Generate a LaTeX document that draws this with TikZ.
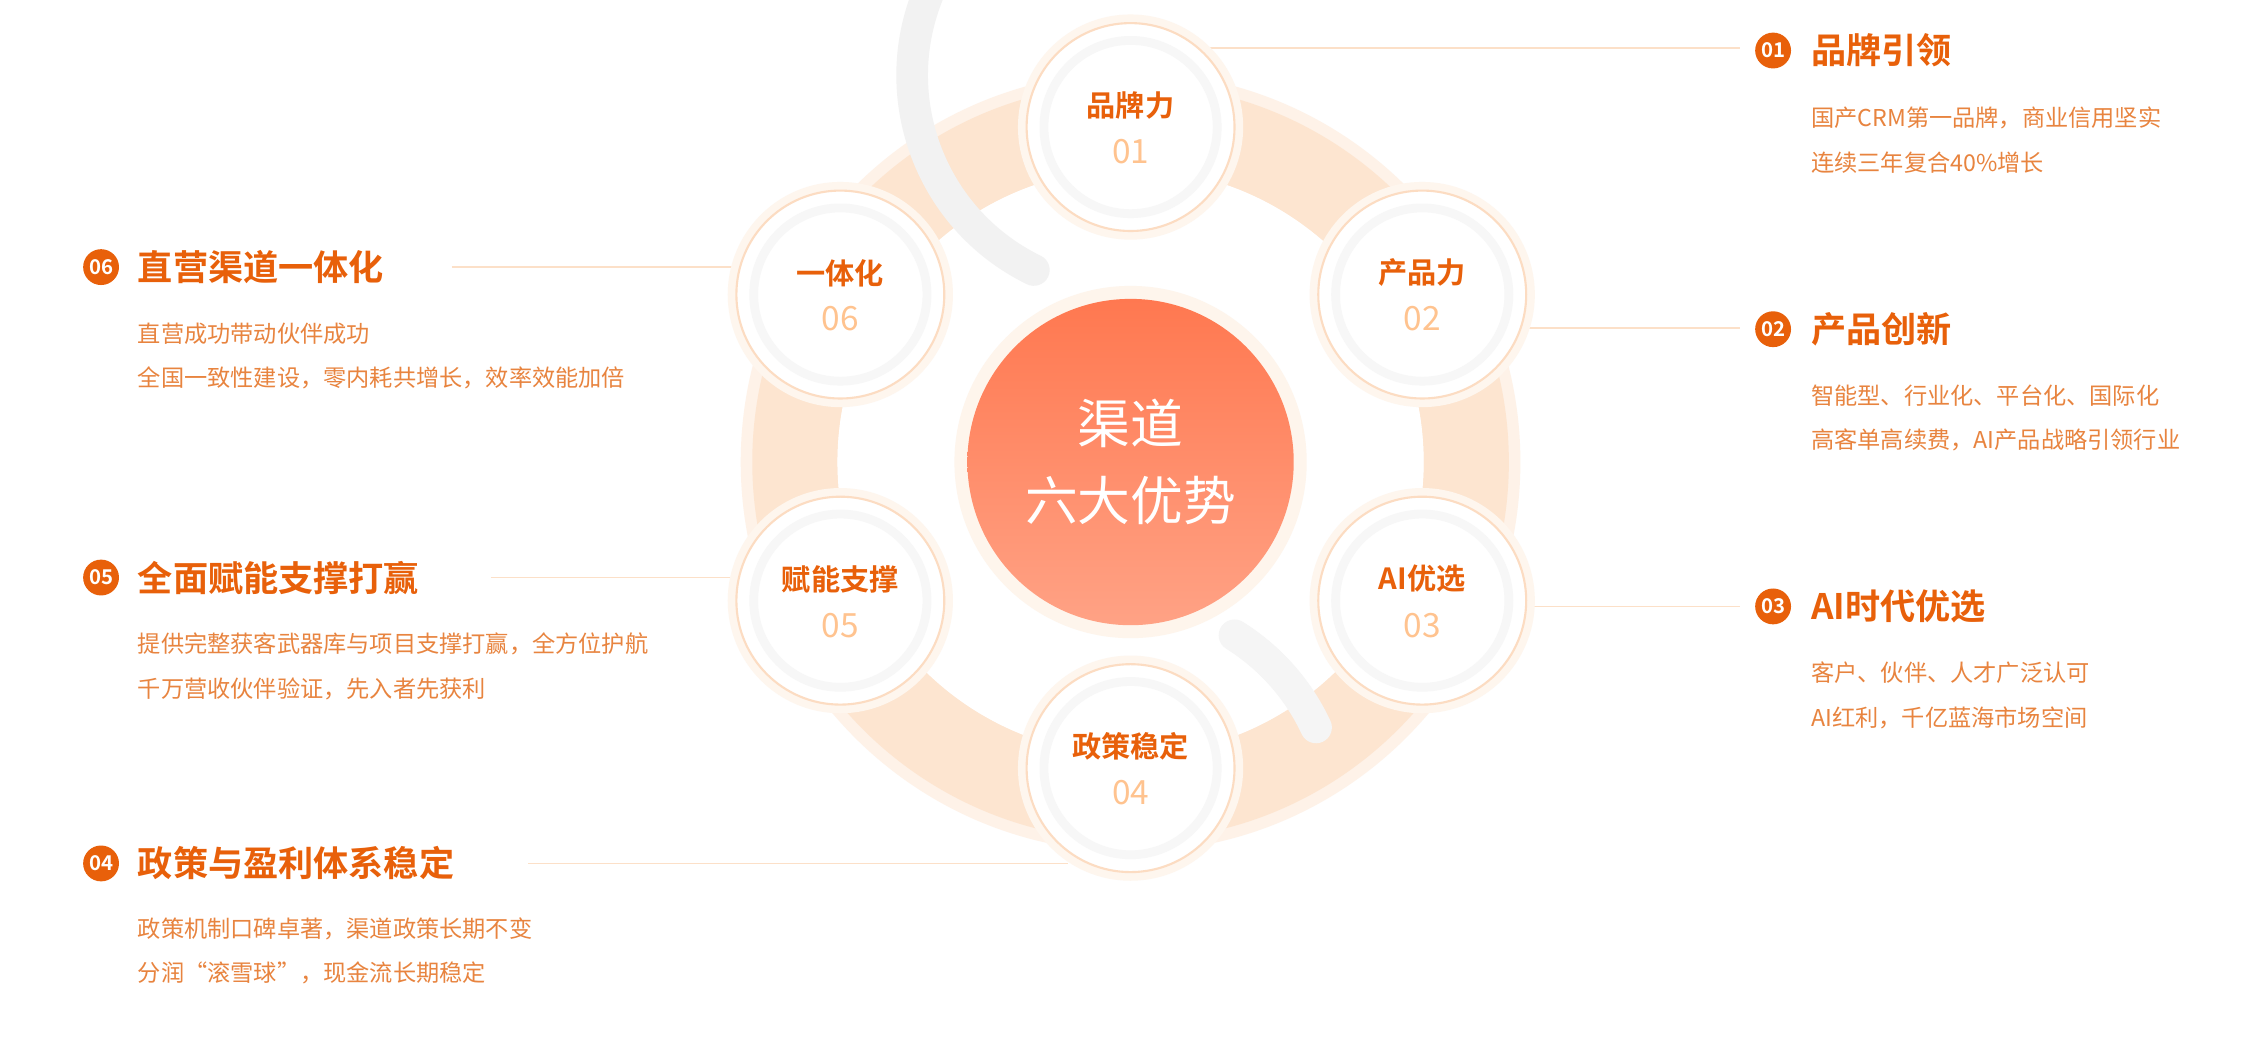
\documentclass[tikz,border=0pt]{standalone}
\usepackage{fontspec}
\setmainfont{Noto Sans CJK SC}
\newfontfamily\cjkb{Noto Sans CJK SC Bold}
\definecolor{org}{HTML}{E8600A}
\definecolor{desc}{HTML}{E8843F}
\definecolor{ringc}{HTML}{FDE5D0}
\definecolor{numc}{HTML}{FFC38F}
\definecolor{lnc}{HTML}{FCE0C8}
\definecolor{cbord}{HTML}{FCDCC2}
\definecolor{ctop}{HTML}{FF7850}
\definecolor{cbot}{HTML}{FFA285}
\begin{document}
\begin{tikzpicture}[x=0.01444cm,y=-0.01444cm,
  ttl/.style={anchor=west,text=org,font=\cjkb\fontsize{10}{12}\selectfont,inner sep=0},
  dsc/.style={anchor=west,text=desc,font=\fontsize{6.6}{8}\selectfont,inner sep=0},
  badge/.style={circle,fill=org,text=white,minimum size=10.2pt,inner sep=0,font=\cjkb\fontsize{5.8}{6}\selectfont},
  conn/.style={draw=lnc,line width=0.5pt},
  small/.style={circle,fill=white,draw=cbord,line width=0.6pt,minimum size=144*0.01444cm,inner sep=0},
  clab/.style={text=org,font=\cjkb\fontsize{8.3}{10}\selectfont,inner sep=0},
  cnum/.style={text=numc,font=\fontsize{9.5}{11}\selectfont,inner sep=0}]
\useasboundingbox (0,0) rectangle (1568,720);
\fill[white] (0,0) rectangle (1568,720);
% ring
\coordinate (c) at (783,320);
\fill[ringc!50] (c) circle (270);
\fill[ringc,even odd rule] (c) circle (262) (c) circle (203);
\fill[white] (c) circle (203);
% faint inner arc
\draw[black!5,line width=9pt,line cap=round] (716,187) arc[start angle=116,end angle=242,radius=150];
\draw[black!4,line width=9pt,line cap=round] (855,440) arc[start angle=-58,end angle=-25,radius=150];
% centre
\fill[ringc!40] (c) circle (122);
\shade[top color=ctop,bottom color=cbot] (c) circle (113);
\node[text=white,font=\fontsize{15}{22}\selectfont,align=center] (ctr) at (c) {渠道\\六大优势};
% connectors (drawn first, behind)
\coordinate (r1) at (1205,33); \coordinate (r2) at (1205,227); \coordinate (r3) at (1205,420);
\coordinate (l6) at (313,185); \coordinate (l5) at (340,400); \coordinate (l4) at (366,598);
\coordinate (e1) at (830,33); \coordinate (e2) at (1050,227); \coordinate (e3) at (1050,420);
\coordinate (e6) at (515,185); \coordinate (e5) at (515,400); \coordinate (e4) at (740,598);
\draw[conn] (e1) -- (r1); \draw[conn] (e2) -- (r2); \draw[conn] (e3) -- (r3);
\draw[conn] (l6) -- (e6); \draw[conn] (l5) -- (e5); \draw[conn] (l4) -- (e4);
% small circles
\foreach \n/\x/\y/\t/\num in {s1/783/88/品牌力/01, s2/985/204/产品力/02, s3/985/416/AI优选/03, s4/783/532/政策稳定/04, s5/582/416/赋能支撑/05, s6/582/204/一体化/06}{
  \fill[ringc!35] (\x,\y) circle (78);
  \node[small] (\n) at (\x,\y) {};
  \draw[black!3,line width=2.5pt] (\x,\y) circle (60);
  \node[clab] at (\x,\y-15) {\t};
  \node[cnum] at (\x,\y+17) {\num};
}
% right texts
\node[badge] (b1) at (1228,35) {01}; \node[ttl] (t1) at (1254,35) {品牌引领};
\node[dsc] at (1254,82) {国产CRM第一品牌，商业信用坚实};
\node[dsc] at (1254,113) {连续三年复合40\%增长};
\node[badge] (b2) at (1228,228) {02}; \node[ttl] (t2) at (1254,228) {产品创新};
\node[dsc] at (1254,274) {智能型、行业化、平台化、国际化};
\node[dsc] at (1254,305) {高客单高续费，AI产品战略引领行业};
\node[badge] (b3) at (1228,420) {03}; \node[ttl] (t3) at (1254,420) {AI时代优选};
\node[dsc] at (1254,466) {客户、伙伴、人才广泛认可};
\node[dsc] at (1254,497) {AI红利，千亿蓝海市场空间};
% left texts
\node[badge] (b6) at (70,185) {06}; \node[ttl] (t6) at (95,185) {直营渠道一体化};
\node[dsc] at (95,231) {直营成功带动伙伴成功};
\node[dsc] at (95,262) {全国一致性建设，零内耗共增长，效率效能加倍};
\node[badge] (b5) at (70,400) {05}; \node[ttl] (t5) at (95,400) {全面赋能支撑打赢};
\node[dsc] at (95,446) {提供完整获客武器库与项目支撑打赢，全方位护航};
\node[dsc] at (95,477) {千万营收伙伴验证，先入者先获利};
\node[badge] (b4) at (70,598) {04}; \node[ttl] (t4) at (95,598) {政策与盈利体系稳定};
\node[dsc] at (95,643) {政策机制口碑卓著，渠道政策长期不变};
\node[dsc] at (95,674) {分润“滚雪球”，现金流长期稳定};
\end{tikzpicture}
\end{document}
